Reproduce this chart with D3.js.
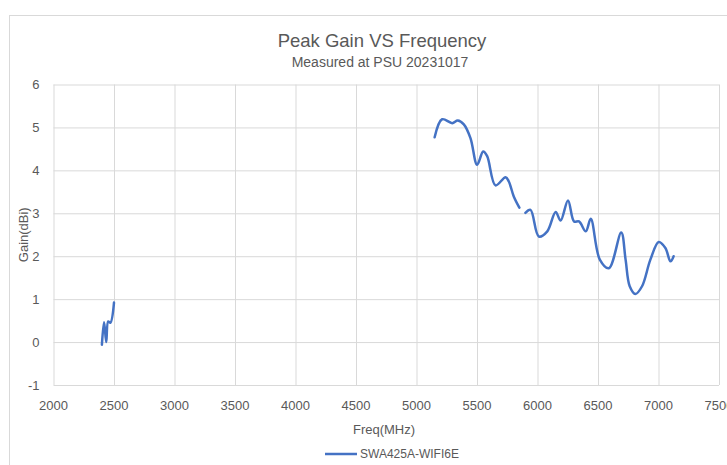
<!DOCTYPE html>
<meta charset="utf-8" />
<style>
    body {
        margin: 0;
        background: #fff;
    }

    text {
        font-family: 'Liberation Sans', Arial, sans-serif;
        fill: #595959;
    }

    .grid line {
        stroke: #d9d9d9;
        stroke-width: 1;
    }

    .grid path {
        display: none;
    }
</style>

<svg width="727" height="465"></svg>

<script src="https://d3js.org/d3.v7.min.js"></script>
<script>
    // x ticks and y ticks as drawn in the original
    const freqTicks = [2000, 2500, 3000, 3500, 4000, 4500, 5000, 5500, 6000, 6500, 7000, 7500];
    const gainTicks = [-1, 0, 1, 2, 3, 4, 5, 6];

    // 2.4 GHz band
    const lowFreq = [2400, 2418, 2436, 2452, 2470, 2500];
    const lowGain = [-0.06, 0.46, 0.0, 0.48, 0.45, 0.92];

    // 5 GHz band (up to the gap)
    const midFreq = [5150, 5212, 5295, 5341, 5391, 5446, 5501, 5551, 5584, 5653, 5736, 5763, 5804, 5850];
    const midGain = [4.77, 5.19, 5.1, 5.16, 5.07, 4.75, 4.13, 4.44, 4.33, 3.65, 3.84, 3.74, 3.39, 3.13];

    // 6 GHz band
    const highFreq = [5900, 5942, 6011, 6081, 6150, 6191, 6252, 6302, 6343, 6399, 6440, 6515, 6590, 6692, 6728, 6762, 6809, 6864, 6933, 7002, 7057, 7099, 7125];
    const highGain = [3.01, 3.08, 2.46, 2.58, 3.03, 2.83, 3.3, 2.81, 2.81, 2.58, 2.87, 1.92, 1.72, 2.55, 1.92, 1.3, 1.12, 1.3, 1.92, 2.33, 2.19, 1.88, 2.0];

    const seriesName = 'SWA425A-WIFI6E';

    function pairs(fs, gs) {
        return fs.map((f, i) => ({ f, g: gs[i] }));
    }

    const segments = [pairs(lowFreq, lowGain), pairs(midFreq, midGain), pairs(highFreq, highGain)];

    const svg = d3.select('svg');

    // chart area border
    svg.append('rect')
        .attr('x', 9.5)
        .attr('y', 15.5)
        .attr('width', 740)
        .attr('height', 470)
        .attr('fill', '#fff')
        .attr('stroke', '#d9d9d9');

    const margin = { top: 84.5, left: 53.5, right: 8, bottom: 80 };
    const width = 727 - margin.left - margin.right;
    const height = 465 - margin.top - margin.bottom;

    const x = d3.scaleLinear().domain([2000, 7500]).range([0, width]);
    const y = d3.scaleLinear().domain([-1, 6]).range([height, 0]);

    const g = svg.append('g').attr('transform', `translate(${margin.left},${margin.top})`);

    g.append('g')
        .attr('class', 'grid')
        .call(d3.axisLeft(y).tickValues(gainTicks).tickSize(-width).tickFormat(''));

    g.append('g')
        .attr('class', 'grid')
        .attr('transform', `translate(0,${height})`)
        .call(d3.axisBottom(x).tickValues(freqTicks).tickSize(-height).tickFormat(''));

    // tick labels
    g.selectAll('.ylab')
        .data(gainTicks)
        .enter()
        .append('text')
        .attr('class', 'ylab')
        .attr('x', -14)
        .attr('y', d => y(d))
        .attr('dy', '0.35em')
        .attr('text-anchor', 'end')
        .style('font-size', '13px')
        .text(d => d);

    g.selectAll('.xlab')
        .data(freqTicks)
        .enter()
        .append('text')
        .attr('class', 'xlab')
        .attr('x', d => x(d))
        .attr('y', height + 20)
        .attr('dy', '0.35em')
        .attr('text-anchor', 'middle')
        .style('font-size', '13px')
        .text(d => d);

    const line = d3
        .line()
        .x(d => x(d.f))
        .y(d => y(d.g))
        .curve(d3.curveCatmullRom.alpha(0.5));

    g.selectAll('.series')
        .data(segments)
        .enter()
        .append('path')
        .attr('class', 'series')
        .attr('d', line)
        .attr('fill', 'none')
        .attr('stroke', '#4472c4')
        .attr('stroke-width', 2.5)
        .attr('stroke-linecap', 'round')
        .attr('stroke-linejoin', 'round');

    // titles
    svg.append('text')
        .attr('x', 382)
        .attr('y', 41)
        .attr('dy', '0.35em')
        .attr('text-anchor', 'middle')
        .style('font-size', '18.5px')
        .text('Peak Gain VS Frequency');

    svg.append('text')
        .attr('x', 380)
        .attr('y', 62)
        .attr('dy', '0.35em')
        .attr('text-anchor', 'middle')
        .style('font-size', '14px')
        .text('Measured at PSU 20231017');

    svg.append('text')
        .attr('x', 384)
        .attr('y', 429)
        .attr('dy', '0.35em')
        .attr('text-anchor', 'middle')
        .style('font-size', '13px')
        .text('Freq(MHz)');

    svg.append('text')
        .attr('transform', `translate(23,${margin.top + height / 2}) rotate(-90)`)
        .attr('dy', '0.35em')
        .attr('text-anchor', 'middle')
        .style('font-size', '13px')
        .text('Gain(dBi)');

    // legend
    const legend = svg.append('g').attr('transform', 'translate(325,454)');
    legend.append('line')
        .attr('x1', 0)
        .attr('x2', 32)
        .attr('stroke', '#4472c4')
        .attr('stroke-width', 2.5);
    legend.append('text')
        .attr('x', 35)
        .attr('dy', '0.35em')
        .style('font-size', '12px')
        .text(seriesName);
</script>
